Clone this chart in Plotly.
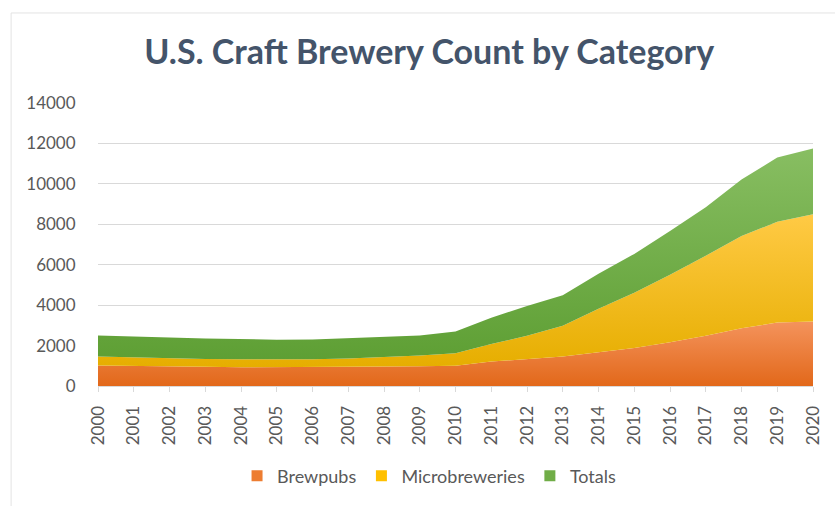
import plotly.graph_objects as go

years = list(range(2000, 2021))
brewpubs = [1010, 1000, 965, 950, 930, 930, 930, 945, 965, 980, 1000,
            1210, 1340, 1455, 1665, 1880, 2160, 2485, 2860, 3140, 3190]
microbreweries = [445, 405, 405, 390, 395, 375, 390, 410, 455, 525, 625,
                  865, 1145, 1520, 2160, 2730, 3345, 3955, 4560, 4980, 5310]
totals = [1045, 1060, 1030, 1015, 995, 985, 985, 1015, 1015, 995, 1065,
          1305, 1470, 1520, 1730, 1925, 2160, 2400, 2795, 3185, 3250]
y_ticks = list(range(0, 14001, 2000))
y_tick_labels = [str(v) for v in y_ticks]

series = [
    ("Brewpubs", brewpubs, "#ED7D31", ["#E2681A", "#F4935C"]),
    ("Microbreweries", microbreweries, "#FFC000", ["#E6AE00", "#FFCA45"]),
    ("Totals", totals, "#70AD47", ["#5E9F34", "#88BE62"]),
]

fig = go.Figure()
for name, vals, col, grad in series:
    fig.add_trace(go.Scatter(
        x=years, y=vals, name=name, mode="lines",
        stackgroup="one", line=dict(width=0, color=col),
        fillcolor=col,
        fillgradient=dict(type="vertical", colorscale=[[0, grad[0]], [1, grad[1]]]),
        hoverinfo="x+y+name", showlegend=False,
    ))
# legend entries with square swatches
for name, vals, col, grad in series:
    fig.add_trace(go.Scatter(
        x=[None], y=[None], name=name, mode="markers",
        marker=dict(symbol="square", size=11, color=col),
        showlegend=True,
    ))

font_family = "Lato, 'Open Sans', sans-serif"
fig.update_layout(
    width=835, height=506,
    margin=dict(l=98, r=13, t=103, b=117),
    paper_bgcolor="white", plot_bgcolor="white",
    font=dict(family=font_family, size=17, color="#595959"),
    title=dict(text="<b>U.S. Craft Brewery Count by Category</b>",
               x=0.514, xanchor="center", y=1 - 52 / 506, yanchor="middle",
               font=dict(family=font_family, size=34, color="#44546A")),
    showlegend=True,
    legend=dict(orientation="h", x=0.463, xanchor="center", y=-0.318, yanchor="middle",
                font=dict(size=18, color="#595959"), traceorder="normal",
                itemwidth=30),
    xaxis=dict(range=[2000, 2020], tickmode="array", tickvals=years,
               ticktext=[str(y) for y in years], tickangle=-90,
               showgrid=False, showline=True, linecolor="#D9D9D9", linewidth=1,
               ticks="outside", ticklen=5, tickcolor="#D9D9D9",
               ticklabelstandoff=7,
               tickfont=dict(size=17, color="#595959"), zeroline=False),
    yaxis=dict(range=[0, 14000], tickmode="array",
               tickvals=y_ticks, ticktext=y_tick_labels,
               showgrid=True, gridcolor="#D9D9D9", gridwidth=1,
               zeroline=False, showline=False,
               ticks="outside", ticklen=18, tickcolor="rgba(0,0,0,0)",
               tickfont=dict(size=17, color="#595959")),
    shapes=[dict(type="rect", xref="paper", yref="paper",
                 x0=(10 - 98) / 724, x1=1.1, y0=-0.6, y1=(389 - 12) / 286,
                 line=dict(color="#E3E3E3", width=1), fillcolor="rgba(0,0,0,0)",
                 layer="below")],
)

fig.write_html("out.html")
